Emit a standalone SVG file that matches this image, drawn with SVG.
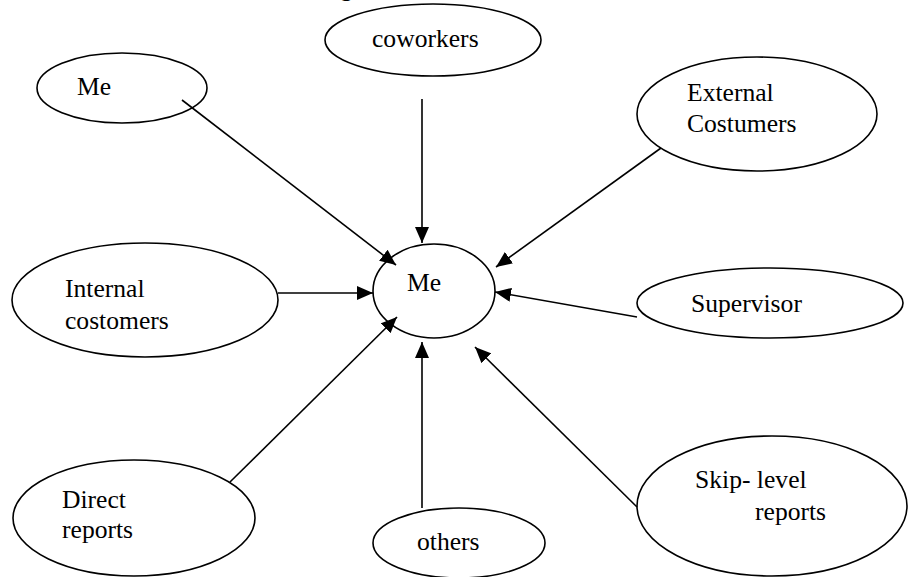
<svg xmlns="http://www.w3.org/2000/svg" width="911" height="577" viewBox="0 0 911 577">
<style>
  .node ellipse { fill: #fff; stroke: #000; stroke-width: 1.6; }
  text { font-family: "Liberation Serif", "Times New Roman", serif; font-size: 25.6px; fill: #000; }
  .conn line { stroke: #000; stroke-width: 1.6; }
</style>
<defs>
  <marker id="arr" markerUnits="userSpaceOnUse" markerWidth="16" markerHeight="14" refX="16" refY="7" orient="auto">
    <path d="M0,0 L16,7 L0,14 z" fill="#000"/>
  </marker>
</defs>
<rect width="911" height="577" fill="#fff"/>
<text x="340" y="-4">g</text>
<g id="center" class="node">
  <ellipse cx="434" cy="291" rx="61" ry="47"/>
  <text x="407" y="291">Me</text>
</g>
<g id="me" class="node">
  <ellipse cx="122" cy="88" rx="85" ry="35"/>
  <text x="77" y="95">Me</text>
</g>
<g id="coworkers" class="node">
  <ellipse cx="433" cy="40" rx="108" ry="36"/>
  <text x="372" y="47">coworkers</text>
</g>
<g id="external" class="node">
  <ellipse cx="757" cy="114" rx="120" ry="57"/>
  <text x="687" y="101">External</text>
  <text x="687" y="132">Costumers</text>
</g>
<g id="internal" class="node">
  <ellipse cx="145" cy="300" rx="133" ry="57"/>
  <text x="65" y="297">Internal</text>
  <text x="65" y="329">costomers</text>
</g>
<g id="supervisor" class="node">
  <ellipse cx="770" cy="303" rx="133" ry="35"/>
  <text x="691" y="312">Supervisor</text>
</g>
<g id="direct" class="node">
  <ellipse cx="134" cy="518" rx="121" ry="58"/>
  <text x="62" y="508">Direct</text>
  <text x="62" y="538">reports</text>
</g>
<g id="others" class="node">
  <ellipse cx="459" cy="543" rx="86" ry="35"/>
  <text x="417" y="550">others</text>
</g>
<g id="skip" class="node">
  <ellipse cx="772" cy="506" rx="135" ry="70"/>
  <text x="695" y="488">Skip- level</text>
  <text x="755" y="520">reports</text>
</g>
<g id="connectors" class="conn">
  <line x1="182" y1="100" x2="396" y2="265" marker-end="url(#arr)"/>
  <line x1="422" y1="99" x2="422" y2="243" marker-end="url(#arr)"/>
  <line x1="661" y1="148" x2="496" y2="267" marker-end="url(#arr)"/>
  <line x1="278" y1="293" x2="373" y2="293" marker-end="url(#arr)"/>
  <line x1="637" y1="317" x2="495" y2="292" marker-end="url(#arr)"/>
  <line x1="230" y1="482" x2="397" y2="317" marker-end="url(#arr)"/>
  <line x1="422" y1="508" x2="422" y2="342" marker-end="url(#arr)"/>
  <line x1="637" y1="507" x2="475" y2="347" marker-end="url(#arr)"/>
</g>
</svg>
